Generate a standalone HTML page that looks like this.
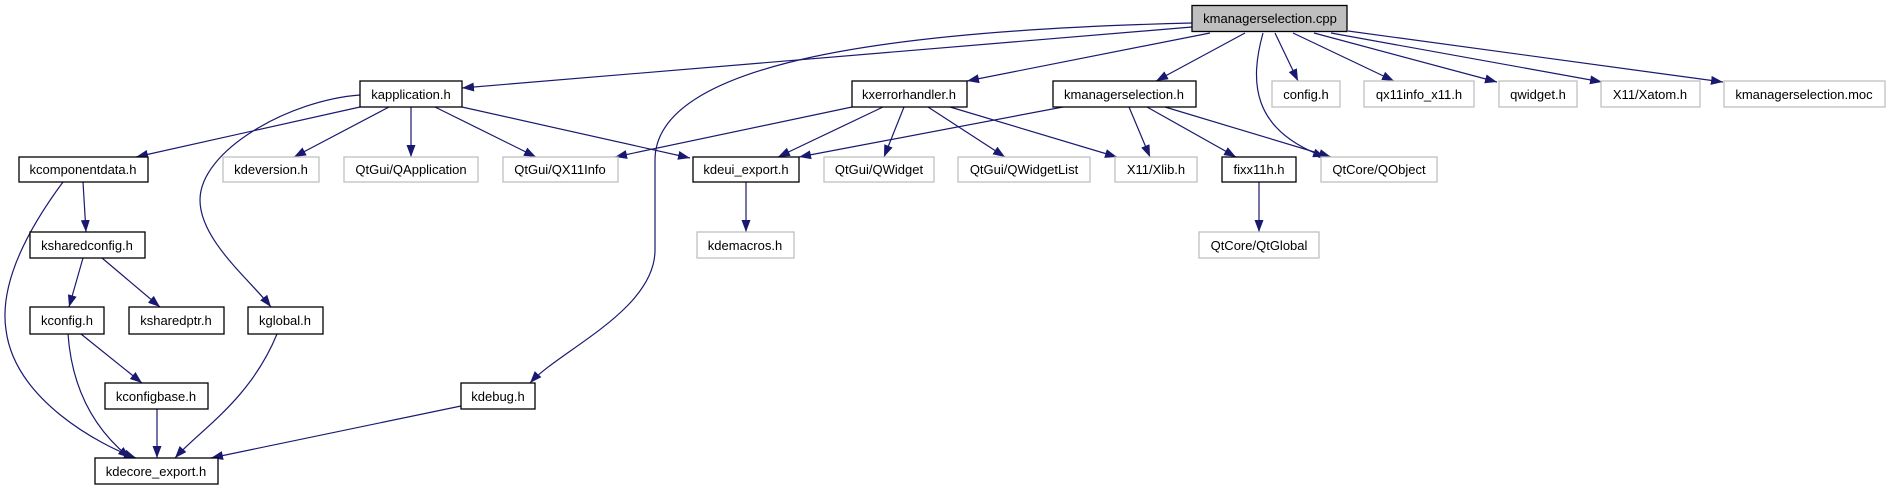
<!DOCTYPE html>
<html><head><meta charset="utf-8"><style>
html,body{margin:0;padding:0;background:#fff;width:1890px;height:485px;overflow:hidden}
svg text{font-family:"Liberation Sans",sans-serif;font-size:13px;fill:#000;text-anchor:middle}
</style></head><body>
<svg width="1890" height="485" viewBox="0 0 1890 485" xmlns="http://www.w3.org/2000/svg">
<defs><marker id="a" markerUnits="userSpaceOnUse" markerWidth="14" markerHeight="11" refX="12" refY="4.5" orient="auto"><path d="M0,0 L12,4.5 L0,9 z" fill="#191970"/></marker></defs>
<g fill="none" stroke="#191970" stroke-width="1.2" marker-end="url(#a)">
<path d="M1192,27 L462,88"/>
<path d="M1192,23 C900,30 655,60 655,160 L655,250 C655,310 560,350 530,383"/>
<path d="M1210,33 L967,81"/>
<path d="M1245,33 L1156,81"/>
<path d="M1263,33 C1250,80 1250,130 1325,157"/>
<path d="M1275,33 L1298,81"/>
<path d="M1293,33 L1394,81"/>
<path d="M1314,33 L1497,82"/>
<path d="M1331,33 L1602,82"/>
<path d="M1348,31 L1723,82"/>
<path d="M360,107 L136,157"/>
<path d="M389,107 L294,157"/>
<path d="M411,107 L411,157"/>
<path d="M435,107 L536,157"/>
<path d="M462,107 L690,158"/>
<path d="M360,95 C290,100 200,150 200,200 C200,240 250,280 271,307"/>
<path d="M852,107 L615,157"/>
<path d="M883,107 L778,157"/>
<path d="M904,107 L884,157"/>
<path d="M928,107 L1005,157"/>
<path d="M950,107 L1117,157"/>
<path d="M1063,107 L799,157"/>
<path d="M1129,107 L1150,157"/>
<path d="M1147,107 L1236,157"/>
<path d="M1165,107 L1331,157"/>
<path d="M1259,182 L1259,232"/>
<path d="M746,182 L746,232"/>
<path d="M83,182 L86,232"/>
<path d="M63,182 C20,240 0,290 6,330 C15,400 100,445 136,458"/>
<path d="M83,258 L69,307"/>
<path d="M102,258 L160,307"/>
<path d="M81,334 L142,383"/>
<path d="M68,334 C72,390 95,430 130,458"/>
<path d="M157,409 L157,458"/>
<path d="M277,334 C250,400 200,430 175,458"/>
<path d="M461,406 L211,458"/>
</g>
<g stroke-width="1.3">
<rect x="1192" y="5.5" width="155" height="26" fill="#bfbfbf" stroke="#000"/>
<text x="1270" y="23">kmanagerselection.cpp</text>
</g>
<g fill="#fff" stroke="#000" stroke-width="1.3">
<rect x="360" y="81" width="102" height="26"/>
<rect x="852" y="81" width="115" height="26"/>
<rect x="1053" y="81" width="143" height="26"/>
<rect x="19" y="157" width="129" height="25"/>
<rect x="693" y="157" width="106" height="25"/>
<rect x="1222" y="157" width="74" height="25"/>
<rect x="30" y="232" width="115" height="26"/>
<rect x="30" y="307" width="74" height="27"/>
<rect x="129" y="307" width="95" height="27"/>
<rect x="248" y="307" width="75" height="27"/>
<rect x="105" y="383" width="103" height="26"/>
<rect x="461" y="383" width="74" height="26"/>
<rect x="95" y="458" width="123" height="26"/>
</g>
<g fill="#fff" stroke="#c0c0c0" stroke-width="1.3">
<rect x="1272" y="81" width="68" height="26"/>
<rect x="1364" y="81" width="110" height="26"/>
<rect x="1499" y="81" width="78" height="26"/>
<rect x="1601" y="81" width="99" height="26"/>
<rect x="1724" y="81" width="161" height="26"/>
<rect x="223" y="157" width="96" height="25"/>
<rect x="344" y="157" width="134" height="25"/>
<rect x="503" y="157" width="115" height="25"/>
<rect x="824" y="157" width="110" height="25"/>
<rect x="958" y="157" width="132" height="25"/>
<rect x="1115" y="157" width="82" height="25"/>
<rect x="1321" y="157" width="116" height="25"/>
<rect x="697" y="232" width="97" height="26"/>
<rect x="1199" y="232" width="120" height="26"/>
</g>
<g>
<text x="411" y="99">kapplication.h</text>
<text x="909" y="99">kxerrorhandler.h</text>
<text x="1124" y="99">kmanagerselection.h</text>
<text x="1306" y="99">config.h</text>
<text x="1419" y="99">qx11info_x11.h</text>
<text x="1538" y="99">qwidget.h</text>
<text x="1650" y="99">X11/Xatom.h</text>
<text x="1804" y="99">kmanagerselection.moc</text>
<text x="83" y="174">kcomponentdata.h</text>
<text x="271" y="174">kdeversion.h</text>
<text x="411" y="174">QtGui/QApplication</text>
<text x="560" y="174">QtGui/QX11Info</text>
<text x="746" y="174">kdeui_export.h</text>
<text x="879" y="174">QtGui/QWidget</text>
<text x="1024" y="174">QtGui/QWidgetList</text>
<text x="1156" y="174">X11/Xlib.h</text>
<text x="1259" y="174">fixx11h.h</text>
<text x="1379" y="174">QtCore/QObject</text>
<text x="87" y="250">ksharedconfig.h</text>
<text x="745" y="250">kdemacros.h</text>
<text x="1259" y="250">QtCore/QtGlobal</text>
<text x="67" y="325">kconfig.h</text>
<text x="176" y="325">ksharedptr.h</text>
<text x="285" y="325">kglobal.h</text>
<text x="156" y="401">kconfigbase.h</text>
<text x="498" y="401">kdebug.h</text>
<text x="156" y="476">kdecore_export.h</text>
</g>
</svg>
</body></html>
